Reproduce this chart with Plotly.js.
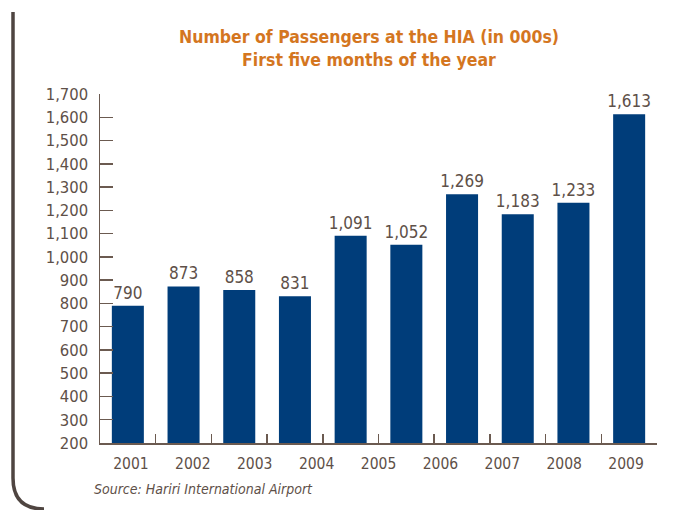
<!DOCTYPE html>
<html>
<head>
<meta charset="utf-8">
<script src="https://cdn.plot.ly/plotly-3.0.1.min.js"></script>
<style>
html,body{margin:0;padding:0;background:#fff;}
#chart{width:679px;height:510px;}
</style>
</head>
<body>
<div id="chart"></div>
<script>
// Data (thousands of passengers)
const values = [790, 873, 858, 831, 1091, 1052, 1269, 1183, 1233, 1613];
const years = ['2001', '2002', '2003', '2004', '2005', '2006', '2007', '2008', '2009'];
const titleText = 'Number of Passengers at the HIA (in 000s)<br>First five months of the year';
const sourceText = 'Source: Hariri International Airport';

const FONT = '"Liberation Sans Narrow", "DejaVu Sans Condensed", "Arial Narrow", sans-serif';
const TXT = '#5e5048';
const BAR = '#003d7a';

const barIdx = values.map((_, i) => i);
const boundaries = values.map((_, i) => i + 0.5);
const yearIdx = years.map((_, i) => i);

const W = 679, H = 510, ml = 100, mr = 22, mt = 94, mb = 67;
const pw = W - ml - mr, ph = H - mt - mb;
const px = x => (x - ml) / pw;
const py = y => (H - mb - y) / ph;

const trace = {
  type: 'bar',
  x: barIdx,
  y: values,
  marker: {color: BAR},
  text: values.map(v => v.toLocaleString('en-US')),
  textposition: 'outside',
  textfont: {family: FONT, size: 17, color: TXT},
  constraintext: 'none',
  cliponaxis: false,
  hoverinfo: 'skip',
  width: 0.575
};

const borderPath = 'M ' + px(13) + ' ' + py(12) + ' L ' + px(13) + ' ' + py(478) +
  ' Q ' + px(13) + ' ' + py(509) + ' ' + px(44) + ' ' + py(509);

const layout = {
  width: W, height: H,
  margin: {l: ml, r: mr, t: mt, b: mb},
  paper_bgcolor: '#fff', plot_bgcolor: '#fff',
  showlegend: false,
  font: {family: FONT, color: TXT, size: 17},
  title: {
    text: titleText,
    font: {family: FONT, size: 17.5, color: '#d4761f', weight: 'bold'},
    x: 369 / W, xanchor: 'center', xref: 'container',
    y: 1 - 43 / H, yanchor: 'top', yref: 'container'
  },
  xaxis: {
    range: [-0.5, values.length - 0.5],
    tickmode: 'array', tickvals: boundaries,
    ticks: 'inside', ticklen: 9, tickwidth: 1.5, tickcolor: '#6b5a50',
    showticklabels: false, showgrid: false, zeroline: false,
    showline: true, linecolor: '#6b5a50', linewidth: 1.5,
    fixedrange: true
  },
  xaxis2: {
    overlaying: 'x', anchor: 'y', side: 'bottom',
    range: [-0.5, years.length - 0.5],
    tickmode: 'array', tickvals: yearIdx, ticktext: years,
    ticks: '', showline: false, showgrid: false, zeroline: false,
    tickfont: {family: FONT, size: 15.5, color: TXT},
    ticklabelstandoff: 9,
    fixedrange: true
  },
  yaxis: {
    range: [200, 1700], dtick: 100, tick0: 200,
    tickformat: ',d',
    ticks: 'inside', ticklen: 13, tickwidth: 1.5, tickcolor: '#6b5a50',
    showline: true, linecolor: '#6b5a50', linewidth: 1.5,
    showgrid: false, zeroline: false,
    tickfont: {family: FONT, size: 16.5, color: TXT},
    ticklabelstandoff: 7,
    fixedrange: true
  },
  shapes: [{
    type: 'path', xref: 'paper', yref: 'paper',
    path: borderPath,
    line: {color: '#4f4541', width: 3.5}
  }],
  annotations: [{
    xref: 'paper', yref: 'paper',
    x: px(92), y: py(489), xanchor: 'left', yanchor: 'middle',
    text: '<i>' + sourceText + '</i>', showarrow: false,
    font: {family: FONT, size: 14, color: TXT}
  }]
};

Plotly.newPlot('chart', [trace, {type: 'scatter', x: [], y: [], xaxis: 'x2', yaxis: 'y', hoverinfo: 'skip', showlegend: false}], layout, {staticPlot: true, displayModeBar: false});
</script>
</body>
</html>
